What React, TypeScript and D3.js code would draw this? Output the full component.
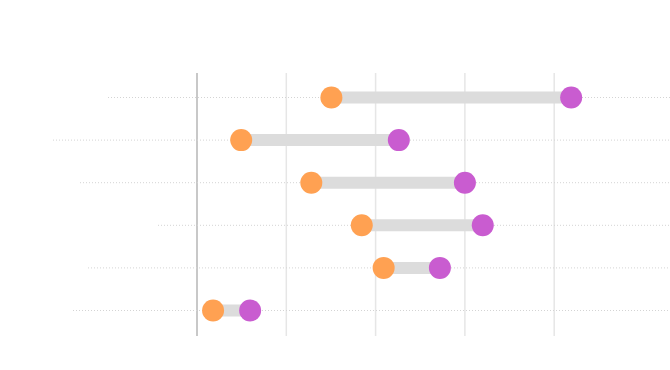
import React, { useEffect, useRef } from "react";
import * as d3 from "d3";

// rows, top to bottom (labels are not shown in the chart)
const categories = ["A", "B", "C", "D", "E", "F"];
const startValues = [30.1, 9.9, 25.6, 36.9, 41.8, 3.6];
const endValues = [83.8, 45.2, 60.0, 64.0, 54.4, 11.9];
const tickValues = [0, 20, 40, 60, 80];
// where each row's dotted guide begins (px), layout only
const guideStart = [108, 53, 80, 158, 88, 73];

const WIDTH = 670;
const HEIGHT = 370;

const App = () => {
  const ref = useRef<SVGSVGElement>(null);

  useEffect(() => {
    const svg = d3.select(ref.current);
    svg.selectAll("*").remove();

    const data = categories.map((c, i) => ({
      cat: c,
      start: startValues[i],
      end: endValues[i],
      guide: guideStart[i],
    }));

    //x軸 0 -> 197px, 20 per ~89px
    const xScale = d3.scaleLinear().domain([0, 100]).range([197, 643.5]);
    const yScale = d3.scalePoint().domain(categories).range([97.5, 310.5]);

    // vertical grid
    svg
      .append("g")
      .selectAll("line")
      .data(tickValues)
      .enter()
      .append("line")
      .attr("x1", (d) => xScale(d))
      .attr("x2", (d) => xScale(d))
      .attr("y1", 73)
      .attr("y2", 336)
      .attr("stroke", (d) => (d === 0 ? "#c8c8c8" : "#e6e6e6"))
      .attr("stroke-width", (d) => (d === 0 ? 2 : 1.5));

    // dotted row guides
    svg
      .append("g")
      .selectAll("line")
      .data(data)
      .enter()
      .append("line")
      .attr("x1", (d) => d.guide)
      .attr("x2", WIDTH)
      .attr("y1", (d) => yScale(d.cat)!)
      .attr("y2", (d) => yScale(d.cat)!)
      .attr("stroke", "#d4d4d4")
      .attr("stroke-width", 1)
      .attr("stroke-dasharray", "1,2");

    // connecting bars
    svg
      .append("g")
      .selectAll("line")
      .data(data)
      .enter()
      .append("line")
      .attr("x1", (d) => xScale(d.start))
      .attr("x2", (d) => xScale(d.end))
      .attr("y1", (d) => yScale(d.cat)!)
      .attr("y2", (d) => yScale(d.cat)!)
      .attr("stroke", "#dcdcdc")
      .attr("stroke-width", 12);

    svg
      .append("g")
      .selectAll("circle")
      .data(data)
      .enter()
      .append("circle")
      .attr("cx", (d) => xScale(d.start))
      .attr("cy", (d) => yScale(d.cat)!)
      .attr("r", 11)
      .attr("fill", "#ffa152");

    svg
      .append("g")
      .selectAll("circle")
      .data(data)
      .enter()
      .append("circle")
      .attr("cx", (d) => xScale(d.end))
      .attr("cy", (d) => yScale(d.cat)!)
      .attr("r", 11)
      .attr("fill", "#c95cd0");
  }, []);

  return (
    <div style={{ position: "absolute", left: 0, top: 0 }}>
      <svg ref={ref} width={WIDTH} height={HEIGHT} style={{ display: "block", background: "#fff" }}></svg>
    </div>
  );
};

export default App;
